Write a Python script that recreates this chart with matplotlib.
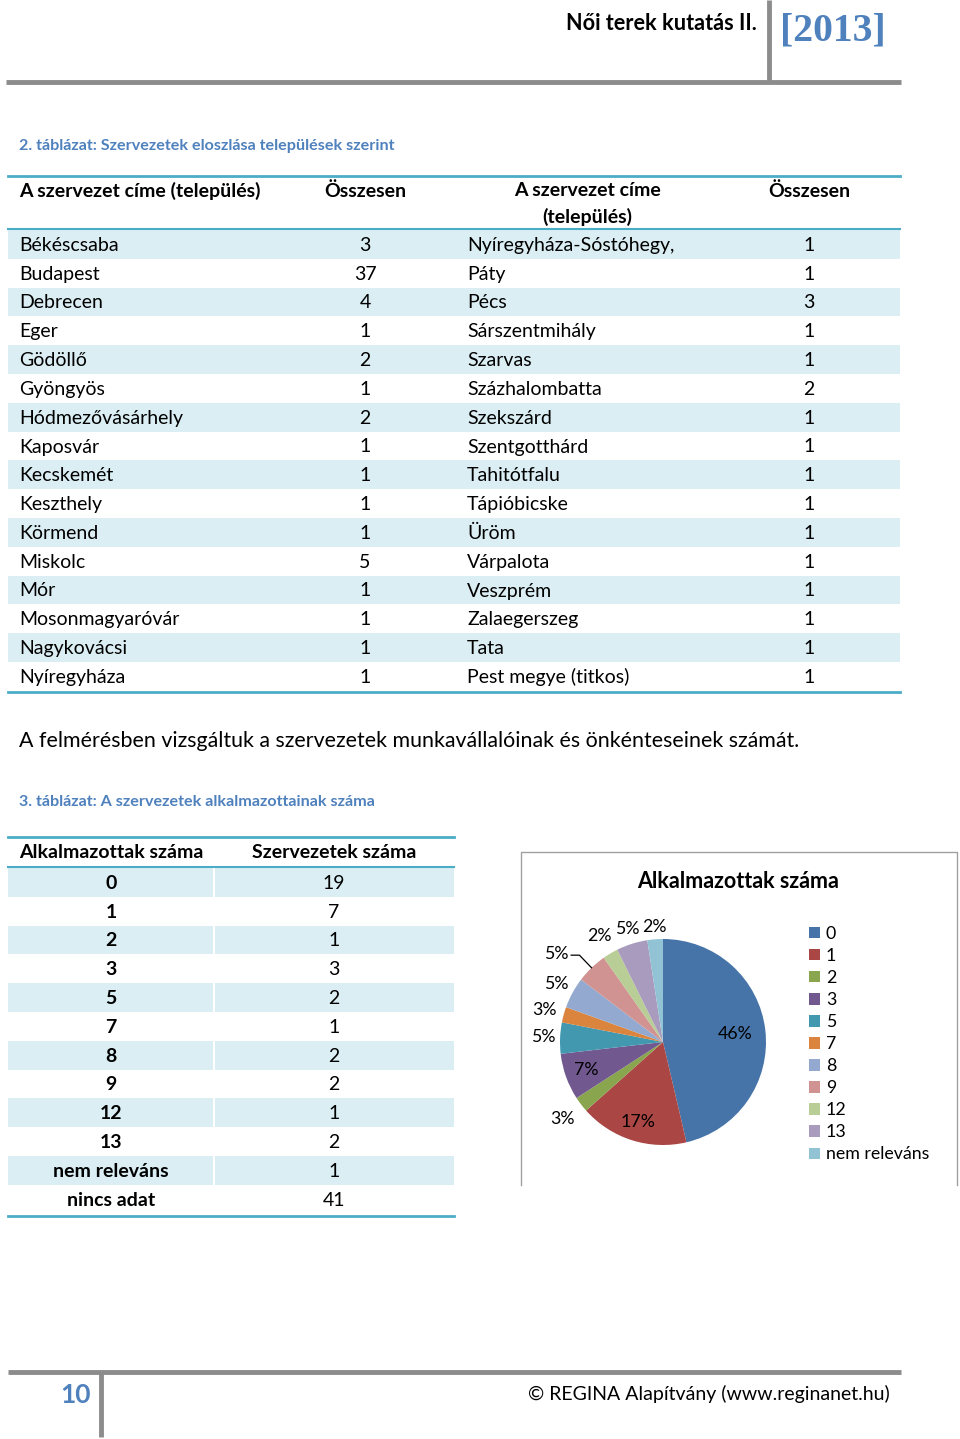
import matplotlib.pyplot as plt
import numpy as np
from matplotlib.patches import Rectangle, Patch

plt.rcParams['font.family'] = ['Lato', 'DejaVu Sans']

# 2. táblázat
cities_left = ['Békéscsaba', 'Budapest', 'Debrecen', 'Eger', 'Gödöllő', 'Gyöngyös',
               'Hódmezővásárhely', 'Kaposvár', 'Kecskemét', 'Keszthely', 'Körmend',
               'Miskolc', 'Mór', 'Mosonmagyaróvár', 'Nagykovácsi', 'Nyíregyháza']
counts_left = [3, 37, 4, 1, 2, 1, 2, 1, 1, 1, 1, 5, 1, 1, 1, 1]
cities_right = ['Nyíregyháza-Sóstóhegy,', 'Páty', 'Pécs', 'Sárszentmihály', 'Szarvas',
                'Százhalombatta', 'Szekszárd', 'Szentgotthárd', 'Tahitótfalu', 'Tápióbicske',
                'Üröm', 'Várpalota', 'Veszprém', 'Zalaegerszeg', 'Tata', 'Pest megye (titkos)']
counts_right = [1, 1, 3, 1, 1, 2, 1, 1, 1, 1, 1, 1, 1, 1, 1, 1]

# 3. táblázat
staff = ['0', '1', '2', '3', '5', '7', '8', '9', '12', '13', 'nem releváns', 'nincs adat']
orgs = [19, 7, 1, 3, 2, 1, 2, 2, 1, 2, 1, 41]
pie_pct = ['46%', '17%', '3%', '7%', '5%', '3%', '5%', '5%', '2%', '5%', '2%']
pie_colors = ['#4674A8', '#AA4643', '#89A54E', '#71588F', '#4198AF', '#DB843D',
              '#93A9CF', '#D19392', '#B9CD96', '#A99BBD', '#92C3D4']
label_dist = [0.71, 0.81, 1.23, 0.79, 1.16, 1.19, 1.18, None, 1.20, 1.15, 1.12]

LINE = '#4BACC6'
SHADE = '#DAEEF3'
GRAY = '#8C8C8C'
BLUE = '#4F81BD'
FS = 14

fig = plt.figure(figsize=(9.6, 14.39), dpi=100)
ax = fig.add_axes([0, 0, 1, 1])
ax.set_xlim(0, 960)
ax.set_ylim(1439, 0)
ax.axis('off')

# header
ax.plot([6, 901], [82, 82], color=GRAY, lw=3.5, solid_capstyle='butt')
ax.plot([769, 769], [0, 82], color=GRAY, lw=3.5, solid_capstyle='butt')
ax.text(757, 24, 'Női terek kutatás II.', ha='right', va='center', fontsize=15.6, fontweight='bold')
ax.text(780, 31, '[2013]', ha='left', va='center', fontsize=28.5, fontweight='bold',
        color=BLUE, family='Liberation Serif')

# table 2 caption
ax.text(19, 146, '2. táblázat: Szervezetek eloszlása települések szerint', ha='left', va='center',
        fontsize=11.6, fontweight='bold', color=BLUE)

row_h = 28.8
y0 = 230
for i in range(len(cities_left)):
    yc = y0 + row_h * (i + 0.5) + 1
    if i % 2 == 0:
        ax.add_patch(Rectangle((8, y0 + row_h * i), 892, row_h, color=SHADE, lw=0))
    ax.text(19, yc, cities_left[i], ha='left', va='center', fontsize=FS)
    ax.text(365, yc, str(counts_left[i]), ha='center', va='center', fontsize=FS)
    ax.text(467, yc, cities_right[i], ha='left', va='center', fontsize=FS)
    ax.text(809, yc, str(counts_right[i]), ha='center', va='center', fontsize=FS)
ax.plot([8, 900], [176, 176], color=LINE, lw=2)
ax.plot([8, 900], [229, 229], color=LINE, lw=1.5)
ax.plot([8, 900], [y0 + row_h * 16 + 1, y0 + row_h * 16 + 1], color=LINE, lw=2)
ax.text(19, 191, 'A szervezet címe (település)', ha='left', va='center', fontsize=FS, fontweight='bold')
ax.text(365, 191, 'Összesen', ha='center', va='center', fontsize=FS, fontweight='bold')
ax.text(587, 191, 'A szervezet címe', ha='center', va='center', fontsize=FS, fontweight='bold')
ax.text(587, 217, '(település)', ha='center', va='center', fontsize=FS, fontweight='bold')
ax.text(809, 191, 'Összesen', ha='center', va='center', fontsize=FS, fontweight='bold')

ax.text(19, 741, 'A felmérésben vizsgáltuk a szervezetek munkavállalóinak és önkénteseinek számát.',
        ha='left', va='center', fontsize=15.4)

ax.text(19, 802, '3. táblázat: A szervezetek alkalmazottainak száma', ha='left', va='center',
        fontsize=11.6, fontweight='bold', color=BLUE)

y1 = 868
for i in range(len(staff)):
    yc = y1 + row_h * (i + 0.5) + 1
    if i % 2 == 0:
        ax.add_patch(Rectangle((8, y1 + row_h * i), 205, row_h, color=SHADE, lw=0))
        ax.add_patch(Rectangle((215, y1 + row_h * i), 239, row_h, color=SHADE, lw=0))
    ax.text(111, yc, staff[i], ha='center', va='center', fontsize=FS, fontweight='bold')
    ax.text(334, yc, str(orgs[i]), ha='center', va='center', fontsize=FS)
ax.plot([8, 454], [837, 837], color=LINE, lw=2)
ax.plot([8, 454], [867, 867], color=LINE, lw=1.5)
ax.plot([8, 454], [y1 + row_h * 12 + 2, y1 + row_h * 12 + 2], color=LINE, lw=2)
ax.text(19, 852, 'Alkalmazottak száma', ha='left', va='center', fontsize=FS, fontweight='bold')
ax.text(334, 852, 'Szervezetek száma', ha='center', va='center', fontsize=FS, fontweight='bold')

# chart frame
ax.plot([521, 521, 957, 957], [1185, 852, 852, 1185], color='#A0A0A0', lw=1)
ax.text(738, 881, 'Alkalmazottak száma', ha='center', va='center', fontsize=15.5, fontweight='bold')

# footer
ax.plot([8, 901], [1372, 1372], color=GRAY, lw=3.5, solid_capstyle='butt')
ax.plot([101, 101], [1372, 1437], color=GRAY, lw=3.5, solid_capstyle='butt')
ax.text(75, 1395, '10', ha='center', va='center', fontsize=19, fontweight='bold', color=BLUE)
ax.text(890, 1394, '© REGINA Alapítvány (www.reginanet.hu)', ha='right', va='center', fontsize=14)

# pie
R = 103
cx, cy = 663, 1042
half = 170
pax = fig.add_axes([(cx - half) / 960, 1 - (cy + half) / 1439, 2 * half / 960, 2 * half / 1439])
wedges, _ = pax.pie(orgs[:11], colors=pie_colors, startangle=90, counterclock=False,
                    radius=1, wedgeprops=dict(lw=0))
pax.set_xlim(-half / R, half / R)
pax.set_ylim(-half / R, half / R)
pax.axis('off')
for w, lab, d in zip(wedges, pie_pct, label_dist):
    th = np.deg2rad((w.theta1 + w.theta2) / 2)
    if d is None:
        # label with leader line
        ex, ey = 1.17 * np.cos(th), 1.17 * np.sin(th)
        pax.plot([np.cos(th), ex, ex - 0.08], [np.sin(th), ey, ey], color='black', lw=0.9)
        pax.text(ex - 0.11, ey + 0.01, lab, ha='right', va='center', fontsize=12.8)
    else:
        pax.text(d * np.cos(th), d * np.sin(th), lab, ha='center', va='center', fontsize=12.8)

handles = [Patch(facecolor=c, edgecolor='none') for c in pie_colors]
fig.legend(handles, staff[:11], loc='upper left', bbox_to_anchor=(809 / 960, 1 - 926 / 1439),
           frameon=False, fontsize=12.8, handlelength=0.6, handleheight=0.6, handletextpad=0.35,
           labelspacing=0.34, borderpad=0, borderaxespad=0)

fig.savefig('out.png', dpi=100)
